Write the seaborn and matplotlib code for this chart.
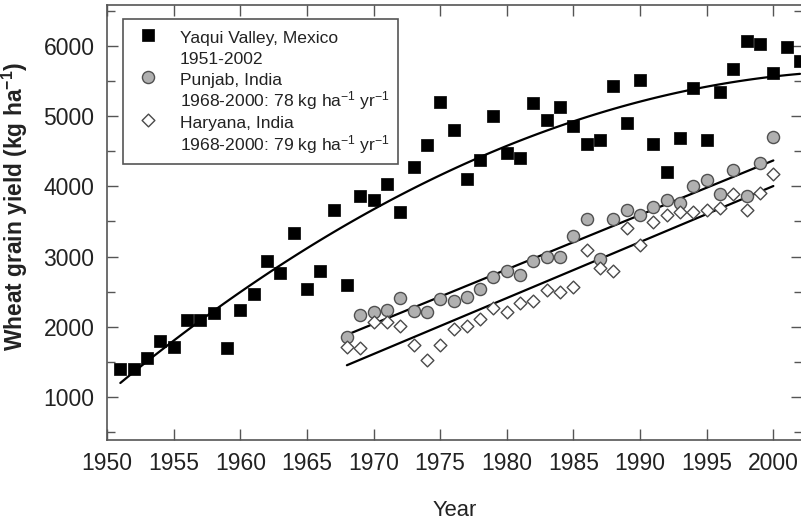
import numpy as np
import pandas as pd
import matplotlib
matplotlib.use("Agg")
import matplotlib.pyplot as plt
from matplotlib.lines import Line2D
from matplotlib.ticker import MultipleLocator
import seaborn as sns

# wheat grain yield (kg/ha)
yaqui_years = list(range(1951, 2003))
yaqui_yield = [1390, 1390, 1560, 1790, 1710, 2100, 2090, 2200, 1700, 2240,
               2470, 2930, 2760, 3340, 2540, 2800, 3660, 2600, 3860, 3800,
               4040, 3640, 4270, 4590, 5200, 4810, 4110, 4370, 5000, 4470,
               4400, 5190, 4940, 5130, 4860, 4600, 4660, 5430, 4910, 5510,
               4600, 4200, 4690, 5400, 4660, 5340, 5670, 6070, 6030, 5610,
               5990, 5790]

india_years = list(range(1968, 2001))
punjab_yield = [1860, 2170, 2210, 2240, 2410, 2230, 2210, 2390, 2360, 2430,
                2540, 2710, 2790, 2730, 2930, 3000, 3000, 3290, 3530, 2970,
                3540, 3660, 3590, 3710, 3800, 3770, 4010, 4090, 3890, 4230,
                3860, 4340, 4700]
haryana_yield = [1710, 1700, 2060, 2060, 2010, 1740, 1530, 1740, 1960, 2010,
                 2110, 2270, 2210, 2340, 2360, 2530, 2490, 2570, 3090, 2830,
                 2790, 3400, 3170, 3490, 3590, 3630, 3630, 3670, 3690, 3890,
                 3660, 3910, 4170]

labels = ["Yaqui Valley, Mexico", "1951-2002",
          "Punjab, India", "1968-2000: 78 kg ha$^{-1}$ yr$^{-1}$",
          "Haryana, India", "1968-2000: 79 kg ha$^{-1}$ yr$^{-1}$"]

yaqui = pd.DataFrame({"year": yaqui_years, "yield": yaqui_yield})
punjab = pd.DataFrame({"year": india_years, "yield": punjab_yield})
haryana = pd.DataFrame({"year": india_years, "yield": haryana_yield})

sns.set_style("ticks")
plt.rcParams["font.family"] = ["Liberation Sans", "DejaVu Sans"]
plt.rcParams["mathtext.fontset"] = "custom"
plt.rcParams["mathtext.rm"] = "Liberation Sans"
plt.rcParams["mathtext.bf"] = "Liberation Sans:bold"
plt.rcParams["mathtext.it"] = "Liberation Sans:italic"
plt.rcParams["mathtext.default"] = "regular"

text_c = "#222222"
frame_c = "#555555"

fig = plt.figure(figsize=(8.01, 5.20), dpi=100)
ax = fig.add_axes([107 / 801, 80 / 520, 695 / 801, 435 / 520])

line_kw = dict(color="black", lw=1.6)
sns.regplot(data=yaqui, x="year", y="yield", order=2, scatter=False, ci=None,
            line_kws=line_kw, ax=ax)
sns.regplot(data=punjab, x="year", y="yield", scatter=False, ci=None,
            line_kws=line_kw, ax=ax)
sns.regplot(data=haryana, x="year", y="yield", scatter=False, ci=None,
            line_kws=line_kw, ax=ax)

sns.scatterplot(data=yaqui, x="year", y="yield", marker="s", s=74,
                color="black", edgecolor="black", linewidth=0.5,
                label=labels[0], ax=ax, zorder=3)
sns.scatterplot(data=punjab, x="year", y="yield", marker="o", s=76,
                color="#b0b0b0", edgecolor="#505050", linewidth=1.0,
                label=labels[2], ax=ax, zorder=3)
sns.scatterplot(data=haryana, x="year", y="yield", marker="D", s=42,
                color="white", edgecolor="#4a4a4a", linewidth=1.0,
                label=labels[4], ax=ax, zorder=3)

ax.set_xlim(1950, 2002.15)
ax.set_ylim(385, 6585)
ax.xaxis.set_major_locator(MultipleLocator(5))
ax.yaxis.set_major_locator(MultipleLocator(1000))
ax.yaxis.set_minor_locator(MultipleLocator(500))
ax.set_yticks([1000, 2000, 3000, 4000, 5000, 6000])

for side in ax.spines.values():
    side.set_color(frame_c)
    side.set_linewidth(1.2)
ax.tick_params(which="both", direction="in", top=True, right=True,
               color=frame_c, width=1.0, labelcolor=text_c, labelsize=16.5)
ax.tick_params(which="major", length=8, pad=9)
ax.tick_params(which="minor", length=6)
ax.tick_params(axis="x", which="minor", bottom=False, top=False)

ax.set_xlabel("Year", fontsize=15.8, color=text_c, labelpad=18)
ax.set_ylabel(r"Wheat grain yield (kg $\mathbf{ha^{-1}}$)", fontsize=16.4,
              fontweight="bold", color=text_c)
ax.yaxis.set_label_coords(-0.111, 0.538)

handles, _ = ax.get_legend_handles_labels()
blank = Line2D([], [], linestyle="none", marker=None)
leg_handles = [handles[0], blank, handles[1], blank, handles[2], blank]
leg = ax.legend(leg_handles, labels, loc="upper left",
                bbox_to_anchor=(0.023, 0.968), borderaxespad=0,
                fontsize=12.6, frameon=True, fancybox=False, framealpha=1,
                edgecolor=frame_c, labelspacing=0.0, handlelength=2.0,
                handleheight=1.45, handletextpad=0.8, borderpad=0.45)
leg.get_frame().set_linewidth(1.2)
for t in leg.get_texts():
    t.set_color(text_c)

fig.savefig("out.png", dpi=100)
